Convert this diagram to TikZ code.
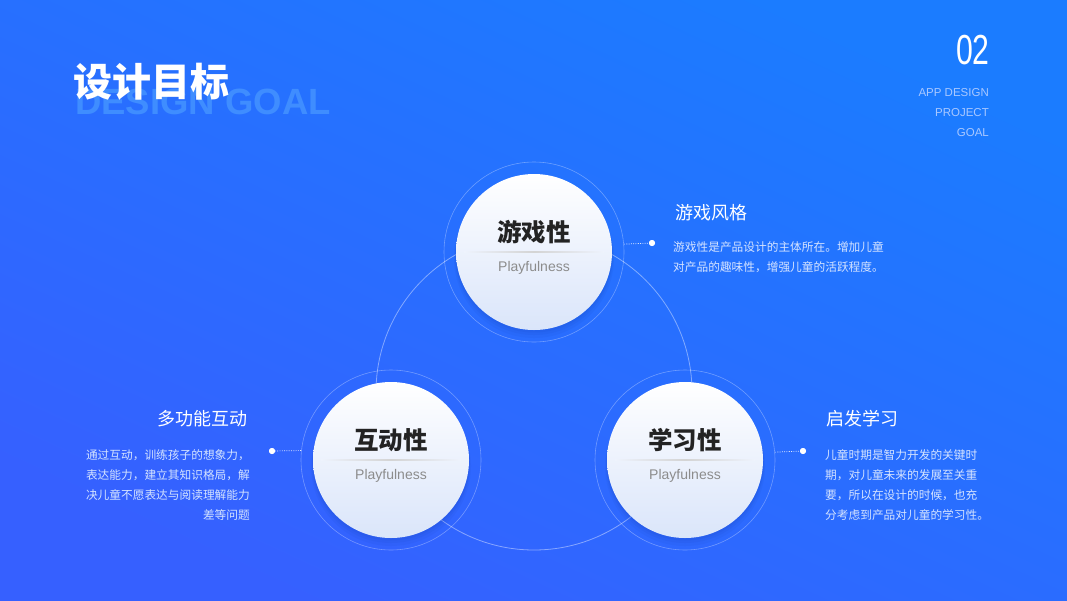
\documentclass[tikz,border=0pt]{standalone}
\usepackage{fontspec}
\setmainfont{Liberation Sans}
\newfontfamily\cjk{Noto Sans CJK SC}
\usetikzlibrary{calc}
\definecolor{bgA}{HTML}{1B7CFF}
\definecolor{bgB}{HTML}{3660FF}
\definecolor{ballB}{HTML}{DAE5FA}
\definecolor{ballM}{HTML}{EEF3FD}
\definecolor{ghost}{HTML}{3F8DFF}
\definecolor{bodytxt}{HTML}{D4E3FF}
\definecolor{subtxt}{HTML}{A9C8FF}
\definecolor{ttlcol}{HTML}{232323}
\definecolor{shadowcol}{HTML}{1038A8}
\tikzset{
  ball/.style={circle, minimum size=156pt, inner sep=0pt, top color=white, bottom color=ballB},
  ringc/.style={circle, minimum size=180pt, inner sep=0pt, draw=white, draw opacity=0.32, line width=0.6pt},
  loopc/.style={circle, minimum size=316pt, inner sep=0pt, draw=white, draw opacity=0.42, line width=0.8pt},
  ttl/.style={font=\cjk\bfseries\fontsize{24.5}{24.5}\selectfont, text=ttlcol, inner sep=0pt},
  en/.style={font=\fontsize{14}{14}\selectfont, text=black!45, inner sep=0pt},
  head/.style={font=\cjk\fontsize{18}{18}\selectfont, text=white, inner sep=0pt},
  body/.style={font=\cjk\fontsize{11.7}{11.7}\selectfont, text=bodytxt, inner sep=0pt},
  dotline/.style={draw=white, draw opacity=0.85, line width=0.7pt, dash pattern=on 1pt off 1.3pt},
  enddot/.style={circle, fill=white, minimum size=6pt, inner sep=0pt},
  corner/.style={font=\fontsize{11.5}{11.5}\selectfont, text=subtxt, inner sep=0pt, anchor=east},
}
\begin{document}
\begin{tikzpicture}[x=1pt,y=-1pt]
\useasboundingbox (0,0) rectangle (1067,600);
\shade[top color=bgA, bottom color=bgB, shading angle=-25] (0,0) rectangle (1067,600);

% header
\node[anchor=base west, inner sep=0pt, text=ghost, font=\bfseries\fontsize{36.5}{36.5}\selectfont] (ghostT) at (75,114) {DESIGN GOAL};
\node[anchor=west, inner sep=0pt, text=white, font=\cjk\bfseries\fontsize{39}{39}\selectfont] (mainT) at (73,82) {设计目标};
\node[anchor=east, inner sep=0pt, text=white] (num) at (990,50) {\scalebox{0.72}[1]{\fontsize{42}{42}\selectfont 02}};
\node[corner] (c1) at (989,93) {APP DESIGN};
\node[corner] (c2) at (989,113) {PROJECT};
\node[corner] (c3) at (989,133) {GOAL};

% big loop
\node[loopc] (loop) at (534,392) {};

% rings
\node[ringc] (topring) at (534,252) {};
\node[ringc] (leftring) at (391,460) {};
\node[ringc] (rightring) at (685,460) {};

% shadows
\foreach \cx/\cy in {534/252, 391/460, 685/460}{
  \fill[shadowcol, opacity=0.06] (\cx,\cy+6) circle (80pt);
  \fill[shadowcol, opacity=0.07] (\cx,\cy+4) circle (79pt);
  \fill[shadowcol, opacity=0.08] (\cx,\cy+2) circle (78.5pt);
}

% balls
\node[ball] (top) at (534,252) {};
\node[ball] (left) at (391,460) {};
\node[ball] (right) at (685,460) {};

\foreach \b in {top,left,right}{
  \shade[left color=ballM, right color=ballM, middle color=black!17]
    ($(\b.center)+(-70,-0.45)$) rectangle ($(\b.center)+(70,0.45)$);
}

\node[ttl] (topT) at ($(top.center)+(0,-20)$) {游戏性};
\node[en] (topE) at ($(top.center)+(0,16)$) {Playfulness};
\node[ttl] (leftT) at ($(left.center)+(0,-20)$) {互动性};
\node[en] (leftE) at ($(left.center)+(0,16)$) {Playfulness};
\node[ttl] (rightT) at ($(right.center)+(0,-20)$) {学习性};
\node[en] (rightE) at ($(right.center)+(0,16)$) {Playfulness};

% connectors
\node[enddot] (dotT) at (652,243) {};
\node[enddot] (dotL) at (272,451) {};
\node[enddot] (dotR) at (803,451) {};
\draw[dotline] (topring.5.7) -- (dotT.center);
\draw[dotline] (leftring.174.3) -- (dotL.center);
\draw[dotline] (rightring.5.7) -- (dotR.center);
\node[enddot] at (dotT.center) {};
\node[enddot] at (dotL.center) {};
\node[enddot] at (dotR.center) {};

% top text
\node[head, anchor=west] (h1) at (675,213) {游戏风格};
\node[body, anchor=west] (t1a) at (673,247.5) {游戏性是产品设计的主体所在。增加儿童};
\node[body, anchor=west] (t1b) at (673,267.5) {对产品的趣味性，增强儿童的活跃程度。};

% left text
\node[head, anchor=east] (h2) at (248,419) {多功能互动};
\node[body, anchor=east] (t2a) at (250,455) {通过互动，训练孩子的想象力，};
\node[body, anchor=east] (t2b) at (250,475) {表达能力，建立其知识格局，解};
\node[body, anchor=east] (t2c) at (250,495) {决儿童不愿表达与阅读理解能力};
\node[body, anchor=east] (t2d) at (250,515) {差等问题};

% right text
\node[head, anchor=west] (h3) at (826,419) {启发学习};
\node[body, anchor=west] (t3a) at (825,455) {儿童时期是智力开发的关键时};
\node[body, anchor=west] (t3b) at (825,475) {期，对儿童未来的发展至关重};
\node[body, anchor=west] (t3c) at (825,495) {要，所以在设计的时候，也充};
\node[body, anchor=west] (t3d) at (825,515) {分考虑到产品对儿童的学习性。};
\end{tikzpicture}
\end{document}
